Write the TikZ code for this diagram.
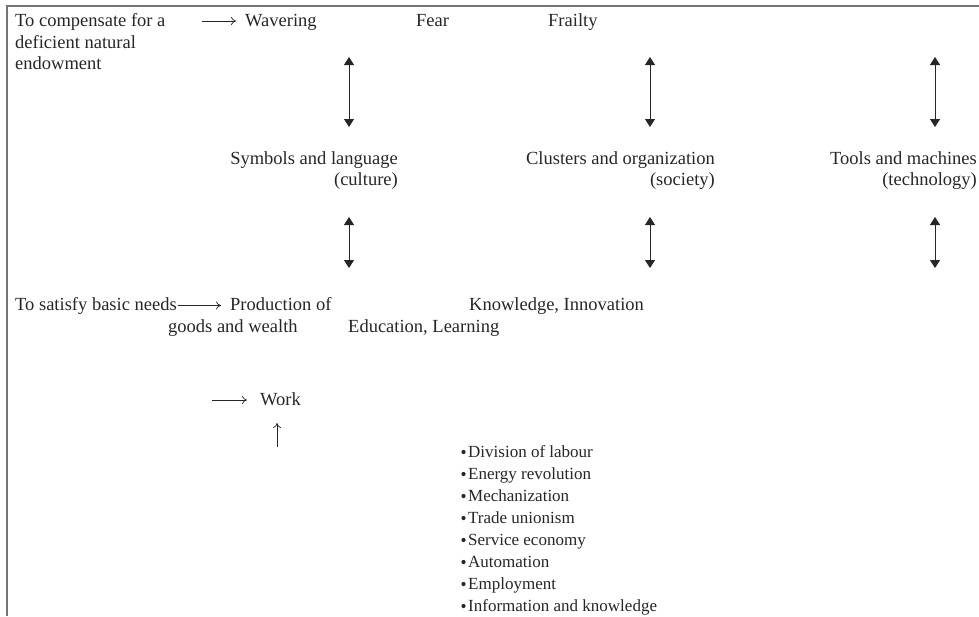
\documentclass[tikz,border=0pt]{standalone}
\usepackage{fontspec}
\setmainfont{Liberation Serif}
\usetikzlibrary{arrows.meta}

\begin{document}
\begin{tikzpicture}[x=1pt,y=-1pt,
    txt/.style={anchor=base west,inner sep=0pt,text=black!85,font=\fontsize{18.5}{22}\selectfont},
    rtxt/.style={txt,anchor=base east},
    ltxt/.style={txt,font=\fontsize{17}{21}\selectfont},
    dbl/.style={{Triangle[width=10pt,length=8pt]}-{Triangle[width=10pt,length=8pt]},line width=0.9pt,draw=black!85,fill=black!85},
    tarr/.style={-{To[length=5pt,width=8pt]},line width=0.7pt,draw=black!85}]
    \useasboundingbox (0,0) rectangle (979,616);

    % Frame (only left and top edge are visible)
    \draw[black!55,line width=1.5pt] (7,616) -- (7,6) -- (979,6);

    % First row
    \node[txt] (comp1) at (15,26) {To compensate for a};
    \node[txt] (comp2) at (15,48) {deficient natural};
    \node[txt] (comp3) at (15,69) {endowment};
    \node[txt] (wav) at (245,26) {Wavering};
    \node[txt] (fear) at (416,26) {Fear};
    \node[txt] (frail) at (548,26) {Frailty};

    % Middle row
    \node[rtxt] (sym) at (398,164) {Symbols and language};
    \node[rtxt] (cult) at (398,185) {(culture)};
    \node[rtxt] (clus) at (715,164) {Clusters and organization};
    \node[rtxt] (soc) at (715,185) {(society)};
    \node[rtxt] (tools) at (977,164) {Tools and machines};
    \node[rtxt] (tech) at (977,185) {(technology)};

    % Third row
    \node[txt] (basic) at (15,310) {To satisfy basic needs};
    \node[txt] (prod) at (230,310) {Production of};
    \node[txt] (goods) at (168,332) {goods and wealth};
    \node[txt] (know) at (469,310) {Knowledge, Innovation};
    \node[txt] (edu) at (348,332) {Education, Learning};

    % Work
    \node[txt] (work) at (260,405) {Work};

    % Double arrows between the rows
    \foreach \x [count=\i] in {349,650,935}{
        \coordinate (up\i) at (\x,57);
        \coordinate (dn\i) at (\x,127);
        \coordinate (upb\i) at (\x,217);
        \coordinate (dnb\i) at (\x,268);
        \draw[dbl] (up\i) -- (dn\i);
        \draw[dbl] (upb\i) -- (dnb\i);
    }

    % Small arrows
    \coordinate (ca) at (202,21);
    \draw[tarr,shorten >=9pt] (ca) -- (ca -| wav.west);
    \draw[tarr,shorten >=9pt] ([xshift=1pt]basic.east) -- (basic.east -| prod.west);
    \coordinate (wa) at (212,400);
    \draw[tarr,shorten >=13pt] (wa) -- (wa -| work.west);
    \coordinate (wb) at (277,447);
    \coordinate (wt) at (277,423);
    \draw[tarr] (wb) -- (wt);

    % Bullet list
    \foreach \t [count=\k] in {Division of labour,Energy revolution,Mechanization,Trade unionism,Service economy,Automation,Employment,Information and knowledge}{
        \node[ltxt] (li\k) at (468,435+22*\k) {\t};
        \fill[black!85] (li\k.base west) ++(-4.5,-5) circle (2.1);
    }
\end{tikzpicture}
\end{document}
